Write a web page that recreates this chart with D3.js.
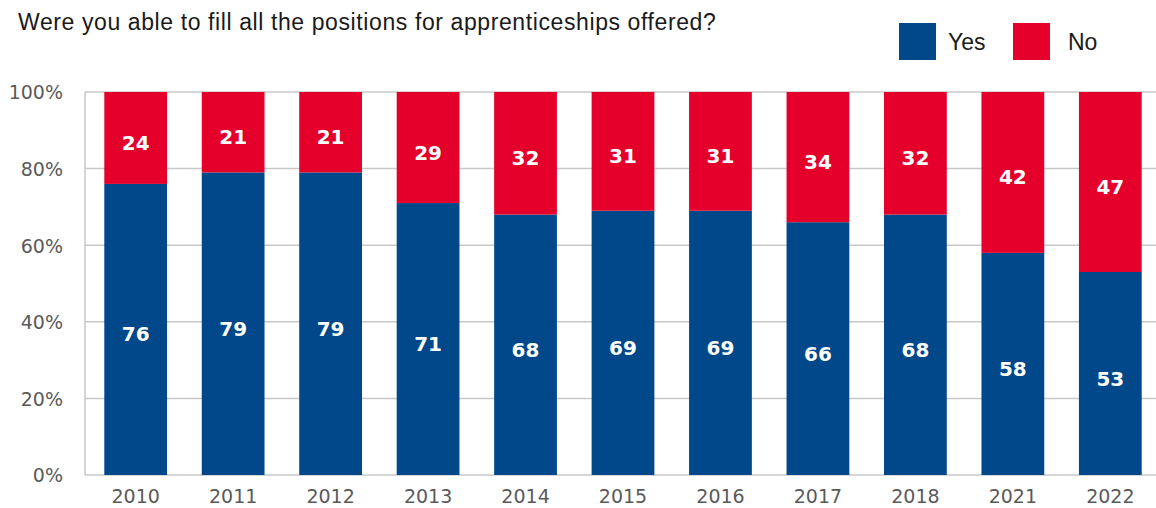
<!DOCTYPE html>
<html>
<head>
<meta charset="utf-8">
<script src="https://cdn.jsdelivr.net/npm/d3@7"></script>
<style>
  html, body { margin: 0; padding: 0; background: #fff; }
  svg { display: block; font-family: "Liberation Sans", Arial, sans-serif; }
</style>
</head>
<body>
<svg id="chart" width="1156" height="508"></svg>
<script>
// Survey years and shares (in %) of companies answering yes / no
const years = ["2010", "2011", "2012", "2013", "2014", "2015", "2016", "2017", "2018", "2021", "2022"];
const yesValues = [76, 79, 79, 71, 68, 69, 69, 66, 68, 58, 53];
const noValues = [24, 21, 21, 29, 32, 31, 31, 34, 32, 42, 47];
const yTicks = [0, 20, 40, 60, 80, 100];
const seriesNames = ["Yes", "No"];
const colors = { Yes: "#00488a", No: "#e4002b" };

const svg = d3.select("#chart");

const x = d3.scaleBand()
  .domain(years)
  .range([85, 1161])
  .paddingInner(0.356)
  .paddingOuter(0.198);

const y = d3.scaleLinear()
  .domain([0, 100])
  .range([475, 92]);

// Horizontal gridlines
svg.append("g")
  .selectAll("line")
  .data(yTicks)
  .join("line")
  .attr("x1", 85)
  .attr("x2", 1156)
  .attr("y1", d => y(d))
  .attr("y2", d => y(d))
  .attr("stroke", "#c8c8c8")
  .attr("stroke-width", 1.5);

// Left axis line
svg.append("line")
  .attr("x1", 85).attr("x2", 85)
  .attr("y1", y(100)).attr("y2", y(0))
  .attr("stroke", "#c8c8c8")
  .attr("stroke-width", 1.5);

// Y tick labels
const yAxis = d3.axisLeft(y)
  .tickValues(yTicks)
  .tickFormat(d => d + "%")
  .tickSize(0)
  .tickPadding(0);
const yg = svg.append("g").attr("transform", "translate(63,0)").call(yAxis);
yg.select(".domain").remove();
yg.selectAll("text")
  .attr("font-size", 19)
  .attr("fill", "#5a5a5a")
  .attr("font-family", "'DejaVu Sans', sans-serif")
  .attr("dy", "0.36em");

// X tick labels
const xAxis = d3.axisBottom(x).tickSize(0).tickPadding(0);
const xg = svg.append("g").attr("transform", "translate(0,489)").call(xAxis);
xg.select(".domain").remove();
xg.selectAll("text")
  .attr("font-size", 19)
  .attr("fill", "#5a5a5a")
  .attr("font-family", "'DejaVu Sans', sans-serif")
  .attr("dy", "0.76em");

// Stacked bars
const rows = years.map((yr, i) => ({ year: yr, Yes: yesValues[i], No: noValues[i] }));
const stack = d3.stack().keys(seriesNames)(rows);

const layers = svg.append("g")
  .selectAll("g")
  .data(stack)
  .join("g")
  .attr("fill", d => colors[d.key]);

layers.selectAll("rect")
  .data(d => d)
  .join("rect")
  .attr("x", d => x(d.data.year))
  .attr("width", x.bandwidth())
  .attr("y", d => y(d[1]))
  .attr("height", d => y(d[0]) - y(d[1]));

// Value labels, slightly below the middle of each segment
const labels = svg.append("g");
stack.forEach(layer => {
  labels.selectAll(null)
    .data(layer)
    .join("text")
    .attr("x", d => x(d.data.year) + x.bandwidth() / 2)
    .attr("y", d => (y(d[0]) + y(d[1])) / 2 + 12)
    .attr("text-anchor", "middle")
    .attr("font-family", "'DejaVu Sans', sans-serif")
    .attr("font-size", 20)
    .attr("font-weight", "bold")
    .attr("fill", "#ffffff")
    .text(d => d.data[layer.key]);
});

// Title
svg.append("text")
  .attr("x", 18)
  .attr("y", 30)
  .attr("font-size", 23)
  .attr("letter-spacing", 0.6)
  .attr("fill", "#1a1a1a")
  .text("Were you able to fill all the positions for apprenticeships offered?");

// Legend
const legend = svg.append("g");
const legendX = [899, 1013];
seriesNames.forEach((name, i) => {
  legend.append("rect")
    .attr("x", legendX[i])
    .attr("y", 23)
    .attr("width", 37)
    .attr("height", 37)
    .attr("fill", colors[name]);
  legend.append("text")
    .attr("x", legendX[i] + (i === 0 ? 49 : 55))
    .attr("y", 50)
    .attr("font-size", 23)
    .attr("fill", "#1a1a1a")
    .text(name);
});
</script>
</body>
</html>
